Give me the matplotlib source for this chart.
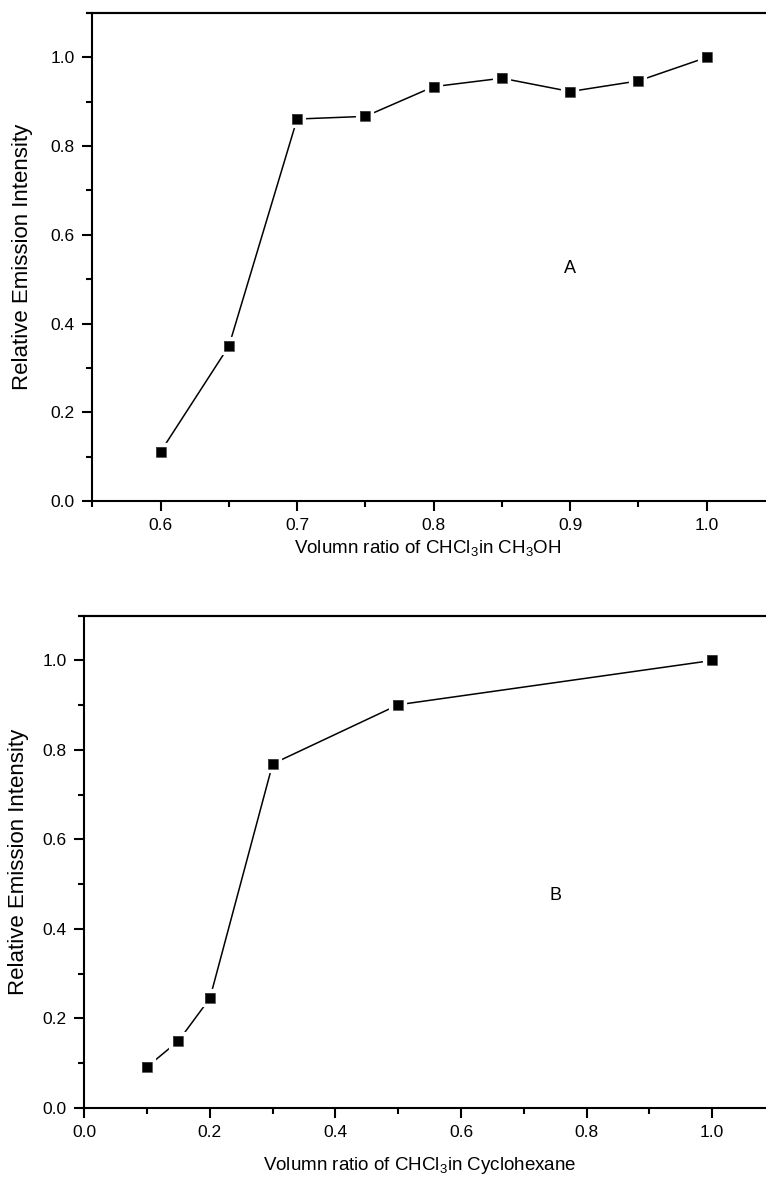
import matplotlib
matplotlib.use("Agg")
import matplotlib.pyplot as plt
from matplotlib.ticker import MultipleLocator, FormatStrFormatter
from matplotlib.lines import Line2D
from matplotlib.transforms import blended_transform_factory, ScaledTranslation

plt.rcParams['font.family'] = ['Liberation Sans', 'DejaVu Sans']
plt.rcParams['mathtext.fontset'] = 'custom'
plt.rcParams['mathtext.rm'] = 'Liberation Sans'
plt.rcParams['mathtext.it'] = 'Liberation Sans'

# Panel A: CHCl3 / CH3OH mixtures
ratio_a = [0.60, 0.65, 0.70, 0.75, 0.80, 0.85, 0.90, 0.95, 1.00]
intensity_a = [0.111, 0.349, 0.861, 0.867, 0.934, 0.953, 0.923, 0.947, 1.000]

# Panel B: CHCl3 / cyclohexane mixtures
ratio_b = [0.10, 0.15, 0.20, 0.30, 0.50, 1.00]
intensity_b = [0.092, 0.150, 0.245, 0.769, 0.901, 1.000]

W, H = 766, 1178
fig = plt.figure(figsize=(W / 100, H / 100), dpi=100)


def frac(l, r, t, b):
    return [l / W, 1 - b / H, (r - l) / W, (b - t) / H]


def style_axes(ax, xlim, xmajor, xminor):
    ax.set_xlim(*xlim)
    ax.set_ylim(0, 1.1)
    ax.xaxis.set_major_locator(MultipleLocator(xmajor))
    ax.xaxis.set_minor_locator(MultipleLocator(xminor))
    ax.yaxis.set_major_locator(MultipleLocator(0.2))
    ax.yaxis.set_minor_locator(MultipleLocator(0.1))
    ax.xaxis.set_major_formatter(FormatStrFormatter('%.1f'))
    ax.yaxis.set_major_formatter(FormatStrFormatter('%.1f'))
    ax.spines['right'].set_visible(False)
    for s in ('left', 'top', 'bottom'):
        ax.spines[s].set_linewidth(1.5)
    ax.tick_params(which='major', direction='out', length=7.5, width=1.5,
                   labelsize=12.5, pad=5)
    ax.tick_params(which='minor', direction='out', length=4, width=1.5)
    ax.tick_params(top=False, right=False, which='both')
    # top frame line extends slightly past the left spine
    trans = blended_transform_factory(ax.transAxes, ax.transAxes)
    off = ScaledTranslation(-5 / 100, 0, fig.dpi_scale_trans)
    ax.add_line(Line2D([0, 1], [1, 1], transform=trans + off, color='black',
                       lw=1.5, clip_on=False))


def draw_series(ax, x, y):
    ax.plot(x, y, color='black', lw=1.1, marker='s', markersize=10.3,
            markerfacecolor='black', markeredgecolor='white',
            markeredgewidth=3.0, clip_on=False, zorder=3)
    ax.plot(x, y, linestyle='none', marker='s', markersize=7.4,
            markerfacecolor='black', markeredgecolor='#555555',
            markeredgewidth=0.5, clip_on=False, zorder=4)


ax1 = fig.add_axes(frac(92.3, 775, 13, 501))
style_axes(ax1, (0.55, 1.05), 0.1, 0.05)
draw_series(ax1, ratio_a, intensity_a)
ax1.text(0.9, 0.523, 'A', fontsize=13, ha='center', va='center')
ax1.set_ylabel('Relative Emission Intensity', fontsize=16, labelpad=13)
ax1.set_xlabel(r'Volumn ratio of CHCl$_3$in CH$_3$OH', fontsize=13.5,
               labelpad=9)
ax1.xaxis.set_label_coords((428 - 92.3) / (775 - 92.3), -0.075)

ax2 = fig.add_axes(frac(84.3, 775, 615.7, 1108))
style_axes(ax2, (0.0, 1.1), 0.2, 0.1)
draw_series(ax2, ratio_b, intensity_b)
ax2.text(0.75, 0.474, 'B', fontsize=13, ha='center', va='center')
ax2.set_ylabel('Relative Emission Intensity', fontsize=16, labelpad=9.5)
ax2.set_xlabel(r'Volumn ratio of CHCl$_3$in Cyclohexane', fontsize=13.5,
               labelpad=9)
ax2.xaxis.set_label_coords((420 - 84.3) / (775 - 84.3), -0.095)

fig.savefig('out.png', dpi=100)
